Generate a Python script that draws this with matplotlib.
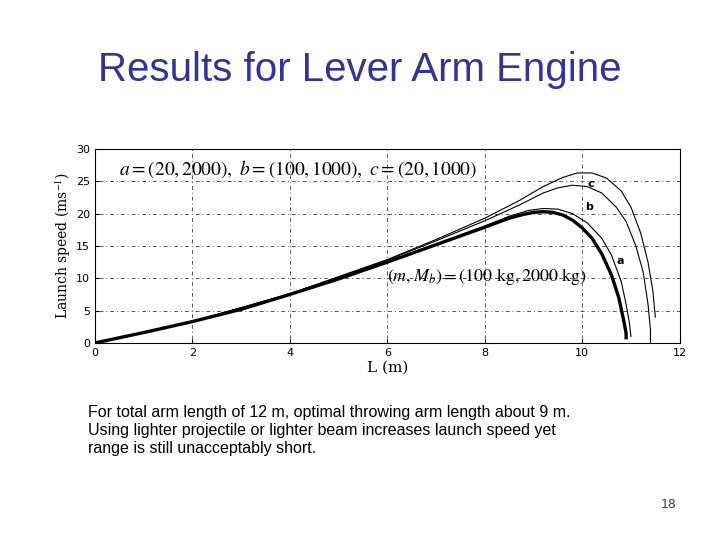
import matplotlib
matplotlib.use("Agg")
import matplotlib.pyplot as plt

plt.rcParams['mathtext.fontset'] = 'stix'

L_main = [0, 1, 2, 3, 4, 5, 6, 7, 8, 8.5, 8.8, 9.0, 9.2, 9.4, 9.6, 9.8, 10, 10.2, 10.4, 10.6, 10.75, 10.85, 10.9, 10.9]
v_main = [0, 1.6, 3.3, 5.2, 7.5, 9.9, 12.5, 15.2, 17.9, 19.3, 19.9, 20.2, 20.3, 20.2, 19.8, 19.0, 17.8, 16.2, 13.8, 10.5, 7, 3.5, 1.5, 0.8]
L_a = [0, 2, 4, 6, 7, 8, 8.5, 8.9, 9.2, 9.5, 9.8, 10.1, 10.4, 10.6, 10.8, 10.9, 10.97, 11.0]
v_a = [0, 3.3, 7.5, 12.6, 15.3, 18.1, 19.6, 20.5, 20.8, 20.7, 20.0, 18.6, 16.2, 13.6, 9.5, 6, 3, 1]
L_b = [0, 2, 4, 6, 7, 8, 8.7, 9.2, 9.5, 9.8, 10.1, 10.4, 10.7, 10.9, 11.1, 11.25, 11.35, 11.4, 11.4]
v_b = [0, 3.3, 7.6, 12.8, 15.8, 18.9, 21.3, 23.2, 24.0, 24.4, 24.2, 23.2, 21.0, 18.8, 15.0, 11, 6, 2, 0]
L_c = [0, 2, 4, 6, 7, 8, 8.7, 9.2, 9.6, 9.9, 10.2, 10.5, 10.8, 11.0, 11.2, 11.35, 11.45, 11.5]
v_c = [0, 3.3, 7.6, 12.9, 16.0, 19.3, 22.0, 24.2, 25.6, 26.3, 26.3, 25.5, 23.5, 21.0, 17.0, 12.5, 8, 4]

fig = plt.figure(figsize=(7.2, 5.4), dpi=100)
fig.text(0.5, 0.85, "Results for Lever Arm Engine", ha="center", fontsize=29,
         color="#333399", family="Liberation Sans")
ax = fig.add_axes([0.132, 0.365, 0.812, 0.359])
ax.plot(L_main, v_main, color="black", lw=2.4)
for x, y in [(L_a, v_a), (L_b, v_b), (L_c, v_c)]:
    ax.plot(x, y, color="black", lw=0.8)
ax.set_xlim(0, 12)
ax.set_ylim(0, 30)
ax.set_xticks(range(0, 13, 2))
ax.set_yticks(range(0, 31, 5))
ax.tick_params(labelsize=8, direction="in", length=3)
ax.grid(True, ls=(0, (1, 3, 4, 3)), color="#555555", lw=0.7)
ax.set_xlabel("L (m)", family="DejaVu Serif", fontsize=11, labelpad=2)
ax.set_ylabel("Launch speed (ms$^{-1}$)", family="DejaVu Serif", fontsize=10, labelpad=2)
ax.text(0.5, 26.0, r"$a = (20, 2000),\ b = (100, 1000),\ c = (20, 1000)$", fontsize=14)
ax.text(6.0, 9.6, r"$(m, M_b) = (100\ \mathrm{kg}, 2000\ \mathrm{kg})$", fontsize=13)
ax.text(10.1, 24.2, "c", fontsize=8, fontweight="bold")
ax.text(10.05, 20.5, "b", fontsize=8, fontweight="bold")
ax.text(10.7, 12.2, "a", fontsize=8, fontweight="bold")
fig.text(0.122, 0.25, "For total arm length of 12 m, optimal throwing arm length about 9 m.\n"
         "Using lighter projectile or lighter beam increases launch speed yet\n"
         "range is still unacceptably short.", fontsize=11.5, family="Liberation Sans",
         va="top", linespacing=1.25)
fig.text(0.94, 0.06, "18", fontsize=9, color="#333399", ha="right")
fig.savefig("out.png", dpi=100)
